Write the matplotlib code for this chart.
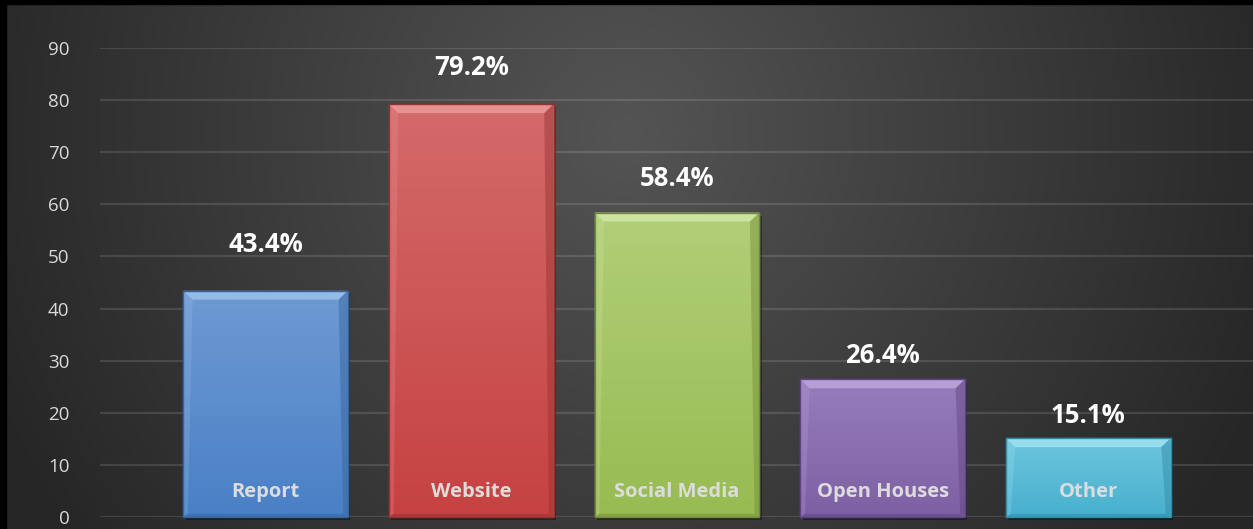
import numpy as np
import matplotlib.pyplot as plt
from matplotlib.patches import Polygon, Rectangle
from matplotlib.colors import to_rgb

# --- Dados ---
categorias = ["Report", "Website", "Social Media", "Open Houses", "Other"]
valores = [43.4, 79.2, 58.4, 26.4, 15.1]
rotulos = ["43.4%", "79.2%", "58.4%", "26.4%", "15.1%"]
cores = ["#4A80C6", "#C64242", "#98BB52", "#7D60A3", "#48B0CE"]
cores_topo = ["#6E9AD3", "#D46A6A", "#B1CF78", "#977DBC", "#6EC5DD"]
cores_claras = ["#9CC0EA", "#EA9A9A", "#D2E8A8", "#BBA6DC", "#A0E2F2"]
cores_escuras = ["#36639A", "#943232", "#6F8D38", "#5C4580", "#2F8AA5"]
yticks = [0, 10, 20, 30, 40, 50, 60, 70, 80, 90]

plt.rcParams['font.family'] = ['Open Sans', 'DejaVu Sans']

fig = plt.figure(figsize=(12.53, 5.29), dpi=100)

# --- Fundo com gradiente radial ---
bg = fig.add_axes([0, 0, 1, 1])
gx, gy = np.meshgrid(np.linspace(0, 1, 400), np.linspace(0, 1, 200))
d = np.sqrt(((gx - 0.5) / 0.58) ** 2 + ((gy - 0.75) / 1.4) ** 2)
lum = np.clip(0.33 - 0.19 * d, 0.15, 0.33)
bg.imshow(np.dstack([lum, lum, lum]), extent=[0, 1, 0, 1], origin="lower",
          aspect="auto", interpolation="bicubic")
bg.set_axis_off()
# moldura preta (esquerda e topo)
bg.add_patch(Rectangle((0, 0), 0.005, 1, color="black", transform=bg.transAxes, zorder=5))
bg.add_patch(Rectangle((0, 0.992), 1, 0.008, color="black", transform=bg.transAxes, zorder=5))

ax = fig.add_axes([0.0798, 0.0227, 0.9202, 0.8866])
ax.patch.set_alpha(0)
x = np.arange(len(categorias))
largura = 0.8

ax.set_ylim(0, 90)
ax.set_xlim(-0.805, 4.801)
ax.set_yticks(yticks)
ax.set_xticks([])
ax.tick_params(axis="y", length=0, pad=22, labelsize=13.5, labelcolor="#D9D9D9")
for s in ax.spines.values():
    s.set_visible(False)
ax.grid(axis="y", color="white", alpha=0.12, linewidth=1.6)
ax.set_axisbelow(True)

# sombra das barras
ax.bar(x + 0.012, valores, width=largura, bottom=-0.6, color="black", alpha=0.35,
       zorder=2, clip_on=False)
# barras principais
barras = ax.bar(x, valores, width=largura, color=cores, edgecolor=cores_escuras,
                linewidth=1.0, zorder=3, clip_on=False)

# deslocamento dos rótulos acima das barras (como no original)
desloc_rotulo = [8.9, 7.0, 6.6, 4.6, 4.4]

bev_y = 1.7
bev_x = 0.045
for i, v in enumerate(valores):
    x0, x1 = x[i] - largura / 2, x[i] + largura / 2
    # gradiente vertical no corpo da barra
    c_base = np.array(to_rgb(cores[i]))
    c_topo = np.array(to_rgb(cores_topo[i]))
    t = np.linspace(0, 1, 100)[:, None]
    grad = (c_base[None, :] * (1 - t) + c_topo[None, :] * t)[:, None, :]
    im = ax.imshow(grad, extent=[x0, x1, 0, v], origin="lower", aspect="auto",
                   interpolation="bicubic", zorder=3.5)
    im.set_clip_path(barras[i])

    topo = Polygon([[x0, v], [x1, v], [x1 - bev_x, v - bev_y], [x0 + bev_x, v - bev_y]],
                   closed=True, facecolor=cores_claras[i], alpha=0.85, edgecolor="none", zorder=4)
    ax.add_patch(topo)
    esq = Polygon([[x0, v], [x0 + bev_x, v - bev_y], [x0 + bev_x * 0.5, 0.6], [x0, 0]],
                  closed=True, facecolor=cores_claras[i], alpha=0.25, edgecolor="none", zorder=4)
    ax.add_patch(esq)
    dir_ = Polygon([[x1, v], [x1 - bev_x, v - bev_y], [x1 - bev_x * 0.5, 0.6], [x1, 0]],
                   closed=True, facecolor=cores_escuras[i], alpha=0.45, edgecolor="none", zorder=4)
    ax.add_patch(dir_)
    ax.add_patch(Polygon([[x0, 0], [x1, 0], [x1 - bev_x * 0.5, 0.6], [x0 + bev_x * 0.5, 0.6]],
                         closed=True, facecolor=cores_escuras[i], alpha=0.5, edgecolor="none", zorder=4))
    ax.add_patch(Rectangle((x0, 0), largura, v, facecolor="none", edgecolor=cores_escuras[i],
                           linewidth=1.0, zorder=4.5))

    # rótulo de valor
    ax.text(x[i], v + desloc_rotulo[i], rotulos[i], ha="center", va="center", fontsize=18.5,
            fontweight="bold", color="white", zorder=6)
    # nome da categoria dentro da barra
    ax.text(x[i], 4.8, categorias[i], ha="center", va="center", fontsize=14.5,
            fontweight="bold", color="#DCDCDC", zorder=6)

fig.savefig("out.png", dpi=100)
plt.close(fig)
